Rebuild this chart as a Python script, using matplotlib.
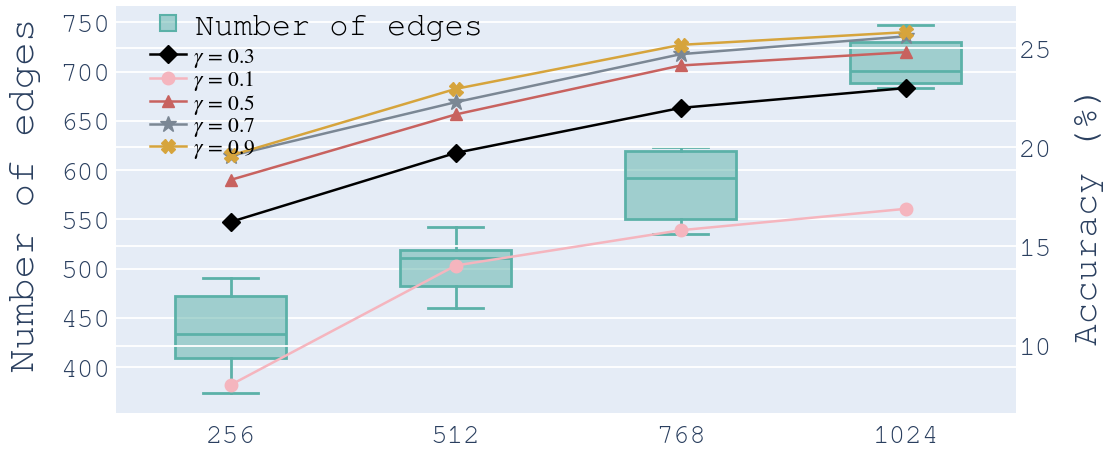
import matplotlib
matplotlib.use("Agg")
import matplotlib.pyplot as plt
from matplotlib.lines import Line2D

plt.rcParams["mathtext.fontset"] = "stix"

MONO = ["Courier New", "Nimbus Mono PS", "FreeMono", "Liberation Mono", "DejaVu Sans Mono"]
SERIF = ["STIXGeneral", "Liberation Serif", "DejaVu Serif"]
TICK_COLOR = "#2a3f5f"
BG = "#E5ECF6"
BOX_COLOR = "#5BB1A8"

# Hidden dimension sizes on the x axis
categories = ["256", "512", "768", "1024"]

# Box statistics for the number of edges
edges_whislo = [373.9, 460.5, 534.9, 683.0]
edges_q1 = [409.7, 482.8, 550.5, 688.1]
edges_med = [433.8, 510.9, 592.0, 700.6]
edges_q3 = [472.6, 519.3, 619.1, 729.7]
edges_whishi = [490.6, 542.3, 623.8, 747.0]

# Accuracy (%) for each gamma
gamma_labels = [r"$\gamma$ = 0.3", r"$\gamma$ = 0.1", r"$\gamma$ = 0.5",
                r"$\gamma$ = 0.7", r"$\gamma$ = 0.9"]
acc_g03 = [16.24, 19.72, 21.99, 22.99]
acc_g01 = [8.02, 14.04, 15.82, 16.90]
acc_g05 = [18.36, 21.66, 24.13, 24.80]
acc_g07 = [19.57, 22.28, 24.70, 25.60]
acc_g09 = [19.59, 22.95, 25.17, 25.81]

edge_ticks = [400, 450, 500, 550, 600, 650, 700, 750]
acc_ticks = [10, 15, 20, 25]

series = [
    (acc_g03, "#000000", "D", 9),
    (acc_g01, "#F5B5BE", "o", 9),
    (acc_g05, "#C8625F", "^", 9),
    (acc_g07, "#7B8794", "*", 12),
    (acc_g09, "#D6A43C", "X", 10),
]

fig = plt.figure(figsize=(11.08, 4.52), dpi=100)
ax1 = fig.add_axes([116 / 1108, 38 / 452, 900 / 1108, 407 / 452])
ax1.set_facecolor(BG)
ax2 = ax1.twinx()

x = list(range(len(categories)))

stats = []
for i in range(len(categories)):
    stats.append(dict(med=edges_med[i], q1=edges_q1[i], q3=edges_q3[i],
                      whislo=edges_whislo[i], whishi=edges_whishi[i], fliers=[]))
ax1.bxp(stats, positions=x, widths=0.495, capwidths=0.245, patch_artist=True,
        showfliers=False,
        boxprops=dict(facecolor=(0.357, 0.694, 0.659, 0.5), edgecolor=BOX_COLOR, linewidth=2),
        medianprops=dict(color=BOX_COLOR, linewidth=2),
        whiskerprops=dict(color=BOX_COLOR, linewidth=2),
        capprops=dict(color=BOX_COLOR, linewidth=2), zorder=2)

for (vals, color, marker, ms), lab in zip(series, gamma_labels):
    ax2.plot(x, vals, color=color, marker=marker, markersize=ms, linewidth=1.8,
             markeredgecolor=color, label=lab, zorder=3)

ax1.set_xlim(-0.51, 3.49)
ax1.set_ylim(353.6, 766.5)
ax2.set_ylim(6.6, 27.13)
ax1.set_xticks(x)
ax1.set_xticklabels(categories)
ax1.set_yticks(edge_ticks)
ax2.set_yticks(acc_ticks)

for ax in (ax1, ax2):
    for s in ax.spines.values():
        s.set_visible(False)
    ax.tick_params(length=0, labelcolor=TICK_COLOR, labelsize=20)
    for lab in ax.get_xticklabels() + ax.get_yticklabels():
        lab.set_family(MONO)
ax1.tick_params(axis="y", pad=4)
ax1.tick_params(axis="x", pad=9)
ax2.tick_params(axis="y", pad=2)

ax1.grid(True, axis="y", color="white", linewidth=1.3, zorder=0)
ax1.set_axisbelow(True)
ax2.grid(True, axis="y", color="white", linewidth=1.3)
ax2.set_axisbelow(True)

fig.text(26 / 1108, 1 - 195 / 452, "Number of edges", rotation=90, ha="center",
         va="center", family=MONO, fontsize=28.4, color=TICK_COLOR)
fig.text(1089 / 1108, 1 - 215 / 452, "Accuracy (%)", rotation=90, ha="center",
         va="center", family=MONO, fontsize=26, color=TICK_COLOR)

box_handle = Line2D([], [], linestyle="none", marker="s", markersize=11,
                    markerfacecolor=(0.357, 0.694, 0.659, 0.5),
                    markeredgecolor=BOX_COLOR, markeredgewidth=1.5)
leg1 = ax2.legend([box_handle], ["Number of edges"], loc="upper left",
                  bbox_to_anchor=(152 / 1108, 1 - 13 / 452),
                  bbox_transform=fig.transFigure, frameon=False,
                  prop=dict(family=MONO, size=23), handlelength=1.0,
                  handletextpad=0.35, borderpad=0, borderaxespad=0)
ax2.add_artist(leg1)
ax2.legend(loc="upper left", bbox_to_anchor=(150 / 1108, 1 - 47 / 452),
           bbox_transform=fig.transFigure, frameon=False,
           prop=dict(family=SERIF, size=15.5), handlelength=1.68,
           handletextpad=0.3, labelspacing=-0.03, borderpad=0, borderaxespad=0)

fig.savefig("out.png", dpi=100)
